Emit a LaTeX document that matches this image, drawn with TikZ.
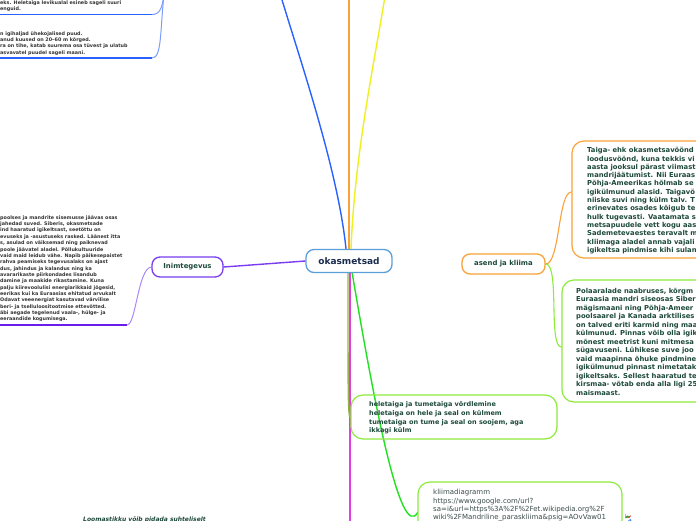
\documentclass[tikz,border=0pt]{standalone}
\usepackage{fontspec}
\setmainfont{DejaVu Sans}
\usetikzlibrary{backgrounds}
\definecolor{centerblue}{HTML}{5B9FD8}
\definecolor{centertext}{HTML}{1A2C4E}
\definecolor{nodetext}{HTML}{1D4A3A}
\definecolor{tinygray}{HTML}{333333}
\definecolor{linkgray}{HTML}{3B4B4B}
\definecolor{cblue}{HTML}{2962FF}
\definecolor{cbluelight}{HTML}{7C9CFF}
\definecolor{corange}{HTML}{F9A23A}
\definecolor{cyellow}{HTML}{F0F020}
\definecolor{colive}{HTML}{95B547}
\definecolor{brightgreen}{HTML}{22E022}
\definecolor{cmagenta}{HTML}{E23FE2}
\definecolor{cpurple}{HTML}{7A3CF0}
\definecolor{cpurplelight}{HTML}{A98BF7}
\definecolor{cunderpurple}{HTML}{6A1BEF}
\definecolor{clime}{HTML}{8CEB3C}
\definecolor{gred}{HTML}{EA4335}
\definecolor{gyellow}{HTML}{FBBC05}
\definecolor{ggreen}{HTML}{34A853}
\definecolor{gblue}{HTML}{4285F4}
\begin{document}
\begin{tikzpicture}[x=1pt,y=-1pt,
  con/.style={line width=1.4pt, line cap=round},
  topic/.style={draw, line width=1.3pt, rounded corners=8pt, fill=white, text=nodetext,
    font=\bfseries\fontsize{6.9}{8}\selectfont, inner sep=0pt},
  bigbox/.style={draw, line width=1.2pt, rounded corners=12pt, inner sep=0pt},
  boxtext/.style={anchor=north west, inner sep=0pt, align=left, text=nodetext,
    font=\bfseries\fontsize{6.8}{8.3}\selectfont},
  tinytext/.style={anchor=north west, inner sep=0pt, align=left, text=tinygray,
    font=\bfseries\fontsize{4.85}{6.35}\selectfont},
]
\useasboundingbox (0,0) rectangle (696,520);
\clip (0,0) rectangle (696,520);

% ---------- nodes ----------
\node[topic, draw=centerblue, text=centertext, font=\bfseries\fontsize{9}{10}\selectfont,
  minimum width=86pt, minimum height=23pt] (center) at (349,261) {okasmetsad};
\node[topic, draw=cpurple, minimum width=71pt, minimum height=20pt] (inim) at (187.5,267) {Inimtegevus};
\node[topic, draw=corange, minimum width=83pt, minimum height=20pt] (asend) at (503.5,264) {asend ja kliima};

\node[bigbox, draw=corange, fill=white, minimum width=190pt, minimum height=117pt] (taigabox) at (667,199.5) {};
\node[bigbox, draw=clime, fill=white, minimum width=200pt, minimum height=122pt] (polarbox) at (662,341) {};
\node[bigbox, draw=clime, minimum width=206pt, minimum height=44pt] (helebox) at (454,417) {};
\node[bigbox, draw=clime, fill=white, minimum width=204pt, minimum height=78pt] (klimabox) at (520,521) {};

\node[boxtext] (taigatext) at (587,147.3) {Taiga- ehk okasmetsavöönd\\
loodusvöönd, kuna tekkis vi\\
aasta jooksul pärast viimast\\
mandrijäätumist. Nii Euraas\\
Põhja-Ameerikas hõlmab se\\
igikülmunud alasid. Taigavö\\
niiske suvi ning külm talv. T\\
erinevates osades kõigub te\\
hulk tugevasti. Vaatamata s\\
metsapuudele vett kogu aas\\
Sademetevaestes teravalt m\\
kliimaga aladel annab vajali\\
igikeltsa pindmise kihi sulan};

\node[boxtext, font=\bfseries\fontsize{6.8}{8.5}\selectfont] (polartext) at (576,287.8) {Polaaralade naabruses, kõrgm\\
Euraasia mandri siseosas Siber\\
mägismaani ning Põhja-Ameer\\
poolsaarel ja Kanada arktilises\\
on talved eriti karmid ning maa\\
külmunud. Pinnas võib olla igik\\
mõnest meetrist kuni mitmesa\\
sügavuseni. Lühikese suve joo\\
vaid maapinna õhuke pindmine\\
igikülmunud pinnast nimetatak\\
igikeltsaks. Sellest haaratud te\\
kirsmaa- võtab enda alla ligi 25\\
maismaast.};

\node[boxtext, font=\bfseries\fontsize{6.5}{8.7}\selectfont] (heletext) at (369,401.6) {heletaiga ja tumetaiga võrdlemine\\
heletaiga on hele ja seal on külmem\\
tumetaiga on tume ja seal on soojem, aga\\
ikkagi külm};

\node[boxtext, text=linkgray, font=\fontsize{7}{8.4}\selectfont] (klimatext) at (433,489.2) {kliimadiagramm\\
https://www.google.com/url?\\
sa=i\&url=https\%3A\%2F\%2Fet.wikipedia.org\%2F\\
wiki\%2FMandriline\_paraskliima\&psig=AOvVaw01};

\node[tinytext] (inimtext) at (0,215.3) {poolses ja mandrite sisemusse jäävas osas\\
jahedad suved. Siberis, okasmetsade\\
ind haaratud igikeltsast, seetõttu on\\
evuseks ja -asustuseks rasked. Läänest itta\\
s, asulad on väiksemad ning paiknevad\\
poole jäävatel aladel. Põllukultuuride\\
vaid maid leidub vähe. Napib päikesepaistet\\
rahva peamiseks tegevusalaks on ajast\\
dus, jahindus ja kalandus ning ka\\
avararikaste piirkondades lisandub\\
damine ja maakide rikastamine. Kuna\\
palju kiirevoolulisi energiarikkaid jõgesid,\\
eerikas kui ka Euraasias ehitatud arvukalt\\
Odavat veeenergiat kasutavad värvilise\\
beri- ja tselluloositootmise ettevõtted.\\
äbi aegade tegelenud vaala-, hülge- ja\\
eeraandide kogumisega.};

\node[tinytext] (tltext1) at (0,0.6) {eks. Heletaiga levikualal esineb sageli suuri\\
enguid.};
\node[tinytext] (tltext2) at (0,31.3) {n igihaljad ühekojalised puud.\\
anud kuused on 20–60 m kõrged.\\
ra on tihe, katab suurema osa tüvest ja ulatub\\
asvavatel puudel sageli maani.};

\node[anchor=north west, inner sep=0pt, text=nodetext, font=\bfseries\itshape\fontsize{6}{7}\selectfont]
  (loomtext) at (83,517.1) {Loomastikku võib pidada suhteliselt};

% google icon
\coordinate (gicon) at (628,517);
\draw[line width=1.1pt, gred] (gicon) ++(2.6,-1.2) arc[start angle=-25, end angle=-150, radius=2.8pt];
\draw[line width=1.1pt, gyellow] (gicon) ++(-2.6,-1.0) arc[start angle=-160, end angle=-200, radius=2.8pt];
\draw[line width=1.1pt, ggreen] (gicon) ++(-2.6,1.0) arc[start angle=160, end angle=45, radius=2.8pt];
\draw[line width=1.1pt, gblue] (gicon) ++(2.0,2.0) arc[start angle=45, end angle=0, radius=2.8pt] -- ++(-2.6,0);

% free ends and attachment points
\coordinate (orangeend) at (349,-10);
\coordinate (yellowend) at (386,-10);
\coordinate (blueend) at (279,-10);
\coordinate (magend) at (350,530);
\coordinate (tltop) at (164,-5);
\coordinate (u1end) at (152,14.5);
\coordinate (u2end) at (152,58);
\coordinate (u3end) at (127,325);
\coordinate (greenstart) at (352,272);
\coordinate (klimain) at (418,512);
\coordinate (olivestart) at (348,272);

% ---------- connectors ----------
\begin{scope}[on background layer]
\fill[white] (0,0) rectangle (696,520);
\draw[con, cmagenta] ([xshift=1pt]center.south) -- (magend);
\draw[con, colive] (olivestart) .. controls (348,400) and (348,417) .. (helebox.west);
\draw[con, brightgreen] (greenstart) .. controls (372,390) and (400,545) .. (klimain);
\draw[con, corange] (center.north) -- (orangeend);
\draw[con, cyellow] ([xshift=2pt]center.north) .. controls (355,150) and (375,60) .. (yellowend);
\draw[con, cblue] ([xshift=-3pt]center.north) .. controls (338,170) and (300,60) .. (blueend);
\draw[con, cpurple] (center.west) -- (inim.east);
\draw[con, corange, line width=1.1pt] (asend.east) .. controls (560,264) and (558,192) .. ([yshift=7.5pt]taigabox.west);
\draw[con, clime, line width=1.1pt] (asend.east) .. controls (560,264) and (548,347) .. ([yshift=-6pt]polarbox.west);
\draw[cbluelight, line width=1pt] (tltop) .. controls (162,8) and (160,14.5) .. (u1end);
\draw[cbluelight, line width=1pt] (tltop) .. controls (160,30) and (162,58) .. (u2end);
\draw[cblue, line width=1.5pt] (u1end) -- (-2,14.5);
\draw[cblue, line width=1.5pt] (u2end) -- (-2,58);
\draw[cpurplelight, line width=1pt] (inim.west) .. controls (138,268) and (136,325) .. (u3end);
\draw[cunderpurple, line width=1.5pt] (u3end) -- (-2,325);
\end{scope}
\end{tikzpicture}
\end{document}
